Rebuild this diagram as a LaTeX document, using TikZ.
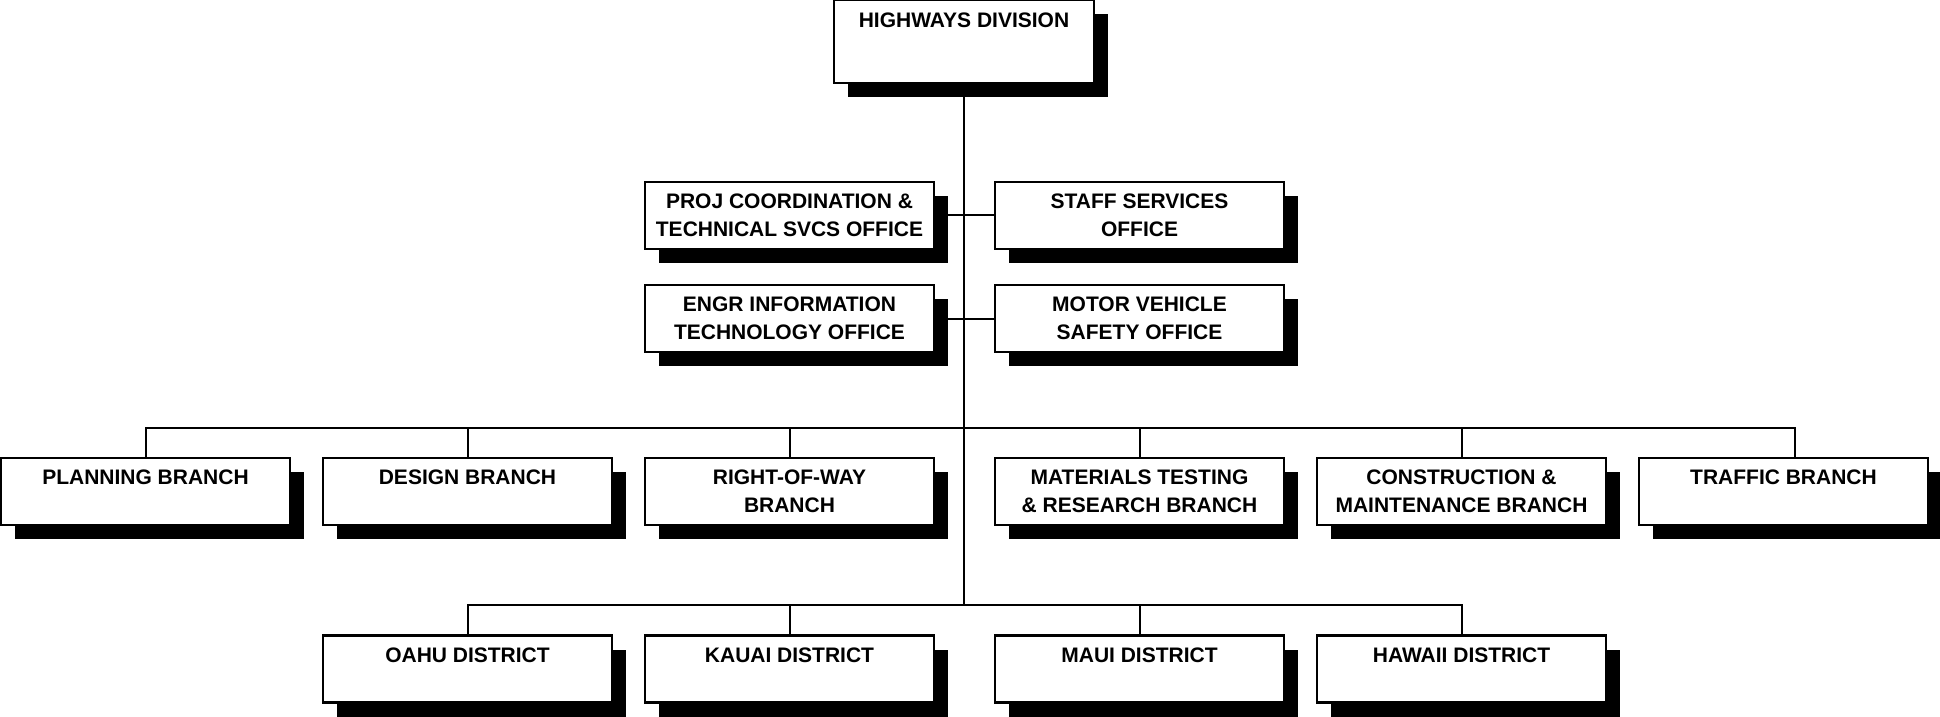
\documentclass[tikz,border=0pt]{standalone}
\usepackage{fontspec}
\setmainfont{Liberation Sans}
\usetikzlibrary{
  positioning,
  shadows
}
\tikzset{
  orgbox/.style={
    draw=black,
    line width=1.1pt,
    fill=white,
    minimum width=144.5pt,
    minimum height=33.5pt,
    inner sep=0pt,
    outer sep=0pt,
    align=center,
    font=\fontsize{10.5}{14.25}\selectfont\bfseries,
    drop shadow={shadow xshift=7pt, shadow yshift=-7pt, opacity=1, fill=black}
  },
  topbox/.style={
    orgbox,
    minimum width=130pt,
    minimum height=41.5pt
  },
  orgline/.style={
    line width=1pt,
    draw=black
  }
}

\begin{document}
\begin{tikzpicture}[x=0.5pt, y=-0.5pt, node distance=16.5pt]
  \useasboundingbox (0,0) rectangle (1940,717);

  \node[topbox] (hwy) at (964,41.5) {HIGHWAYS DIVISION\\[7pt]~};

  \node[orgbox] (proj) at (789.5,215.5)
    {PROJ COORDINATION \&\\TECHNICAL SVCS OFFICE};
  \node[orgbox, right=30.5pt of proj] (staff)
    {STAFF SERVICES\\OFFICE};
  \node[orgbox, below=18pt of proj] (engr)
    {ENGR INFORMATION\\TECHNOLOGY OFFICE};
  \node[orgbox, right=30.5pt of engr] (motor)
    {MOTOR VEHICLE\\SAFETY OFFICE};

  \node[orgbox] (row) at (789.5,491.5) {RIGHT-OF-WAY\\BRANCH};
  \node[orgbox, left=of row] (design) {DESIGN BRANCH\\~};
  \node[orgbox, left=of design] (plan) {PLANNING BRANCH\\~};
  \node[orgbox, right=30.5pt of row] (mat)
    {MATERIALS TESTING\\\& RESEARCH BRANCH};
  \node[orgbox, right=of mat] (cons)
    {CONSTRUCTION \&\\MAINTENANCE BRANCH};
  \node[orgbox, right=of cons] (traf) {TRAFFIC BRANCH\\~};

  \node[orgbox] (kauai) at (789.5,669) {KAUAI DISTRICT\\~};
  \node[orgbox, left=of kauai] (oahu) {OAHU DISTRICT\\~};
  \node[orgbox, right=30.5pt of kauai] (maui) {MAUI DISTRICT\\~};
  \node[orgbox, right=of maui] (hawaii) {HAWAII DISTRICT\\~};

  \coordinate (bb) at (964,428);
  \coordinate (db) at (964,605);

  \draw[orgline] (hwy.south) -- (db);
  \draw[orgline] (proj.east) -- (staff.west);
  \draw[orgline] (engr.east) -- (motor.west);

  \foreach \b in {plan,design,row,mat,cons}
    \draw[orgline] (bb) -| (\b.north);
  \draw[orgline] (bb) -| ([xshift=5.5pt]traf.north);

  \foreach \d in {oahu,kauai,maui,hawaii}
    \draw[orgline] (db) -| (\d.north);
\end{tikzpicture}
\end{document}
